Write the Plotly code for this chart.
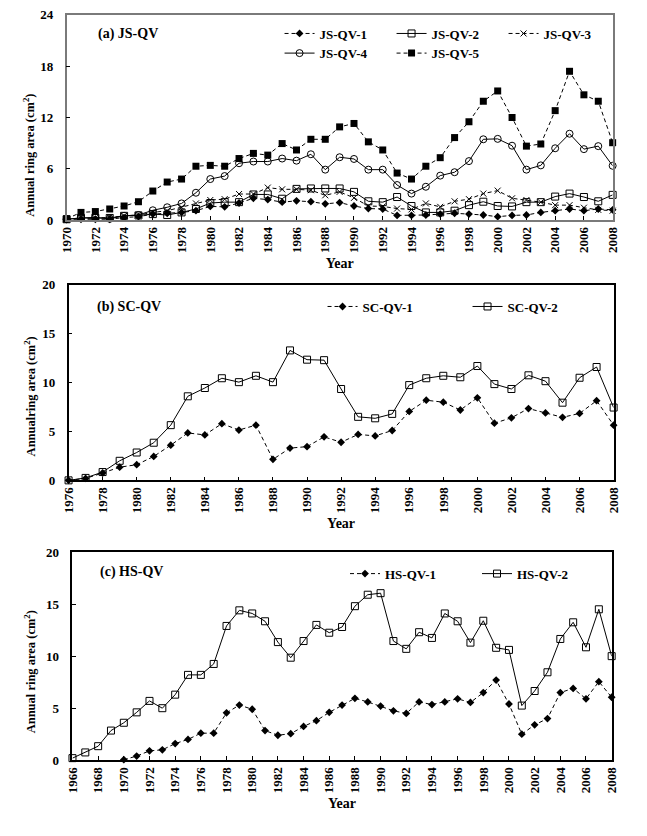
import plotly.graph_objects as go

# ---------------- data ----------------
js_years = list(range(1970, 2009))
js_qv_1 = [0.1, 0.1, 0.1, 0.1, 0.3, 0.4, 0.7, 0.8, 0.9, 1.1,
           1.6, 1.55, 2.0, 2.55, 2.4, 2.1, 2.25, 2.15, 1.9, 2.05,
           1.65, 1.35, 1.3, 0.55, 0.55, 0.6, 0.7, 0.8, 0.7, 0.6,
           0.4, 0.55, 0.6, 0.9, 1.1, 1.3, 1.1, 1.3, 1.2]
js_qv_2 = [0.1, 0.25, 0.25, 0.25, 0.5, 0.55, 0.7, 0.6, 0.9, 1.3,
           2.0, 2.1, 2.1, 3.0, 3.0, 2.5, 3.65, 3.7, 3.7, 3.7,
           3.3, 2.2, 2.1, 2.7, 1.65, 0.9, 0.9, 1.1, 1.75, 2.15,
           1.65, 1.6, 2.1, 2.1, 2.75, 3.1, 2.7, 2.2, 2.95]
js_qv_3 = [0.1, 0.2, 0.25, 0.3, 0.5, 0.6, 0.9, 1.1, 1.5, 1.95,
           2.35, 2.45, 3.05, 3.05, 3.8, 3.6, 3.6, 3.5, 2.9, 3.3,
           2.6, 1.65, 1.6, 1.35, 1.25, 1.95, 1.55, 2.2, 2.45, 3.1,
           3.45, 2.55, 2.35, 2.1, 1.75, 1.75, 1.45, 1.2, 1.1]
js_qv_4 = [0.1, 0.25, 0.3, 0.15, 0.5, 0.6, 1.15, 1.5, 1.95, 3.2,
           4.8, 5.15, 6.65, 6.85, 6.85, 7.2, 6.95, 7.7, 5.9, 7.35,
           7.15, 5.9, 5.9, 4.1, 3.1, 3.9, 5.2, 5.6, 6.9, 9.45,
           9.5, 8.7, 5.9, 6.4, 8.4, 10.1, 8.3, 8.65, 6.35]
js_qv_5 = [0.15, 0.9, 1.0, 1.3, 1.65, 2.15, 3.4, 4.45, 4.8, 6.3,
           6.4, 6.3, 7.2, 7.8, 7.6, 8.95, 8.2, 9.45, 9.45, 10.9,
           11.3, 9.15, 8.2, 5.5, 4.8, 6.3, 7.3, 9.65, 11.5, 13.9,
           15.1, 12.0, 8.65, 8.9, 12.8, 17.4, 14.65, 13.9, 9.05]

sc_years = list(range(1976, 2009))
sc_qv_1 = [0, 0.2, 0.75, 1.35, 1.6, 2.45, 3.6, 4.85, 4.65, 5.8,
           5.15, 5.65, 2.15, 3.3, 3.45, 4.45, 3.9, 4.7, 4.55, 5.1,
           7.05, 8.2, 8.0, 7.2, 8.45, 5.85, 6.4, 7.35, 6.9, 6.45,
           6.85, 8.15, 5.65]
sc_qv_2 = [0, 0.25, 0.85, 2.0, 2.85, 3.85, 5.65, 8.6, 9.45, 10.45,
           10.05, 10.7, 10.05, 13.3, 12.35, 12.3, 9.35, 6.5, 6.35, 6.8,
           9.75, 10.45, 10.7, 10.55, 11.7, 9.85, 9.35, 10.75, 10.15, 7.95,
           10.5, 11.6, 7.45]

hs1_years = list(range(1970, 2009))
hs_qv_1 = [0.05, 0.4, 0.9, 1.0, 1.6, 2.0, 2.6, 2.6, 4.55, 5.3,
           4.9, 2.85, 2.4, 2.55, 3.25, 3.8, 4.6, 5.3, 5.95, 5.6,
           5.2, 4.75, 4.5, 5.6, 5.35, 5.6, 5.9, 5.55, 6.5, 7.7,
           5.4, 2.5, 3.4, 4.0, 6.5, 6.9, 5.9, 7.55, 6.05]
hs2_years = list(range(1966, 2009))
hs_qv_2 = [0.2, 0.75, 1.35, 2.85, 3.6, 4.6, 5.7, 5.0, 6.3, 8.2,
           8.2, 9.25, 12.9, 14.4, 14.1, 13.35, 11.35, 9.85, 11.45, 13.0,
           12.25, 12.8, 14.8, 15.9, 16.05, 11.45, 10.7, 12.3, 11.75, 14.1,
           13.35, 11.3, 13.4, 10.8, 10.6, 5.25, 6.65, 8.45, 11.65, 13.25,
           10.85, 14.5, 10.0]

# ---------------- figure ----------------
W, H = 647, 836
FONT = "Liberation Serif"
DASH = "4px,3px"

fig = go.Figure()

def px_x(p):
    return p / W

def px_y(p):
    return 1 - p / H

STY = {
    "diamond": dict(symbol="diamond", size=6, color="black"),
    "sq_open": dict(symbol="square-open", size=7, color="black", line=dict(width=1)),
    "x": dict(symbol="x-thin-open", size=6, color="black", line=dict(width=1)),
    "circ": dict(symbol="circle-open", size=7, color="black", line=dict(width=1)),
    "sq_fill": dict(symbol="square", size=7, color="black"),
}

def add(x, y, name, marker, dash, xa, ya, legend):
    fig.add_trace(go.Scatter(
        x=x, y=y, name=name, mode="lines+markers",
        line=dict(color="black", width=1, dash=dash),
        marker=STY[marker], xaxis=xa, yaxis=ya, legend=legend,
        cliponaxis=False))

add(js_years, js_qv_1, "JS-QV-1", "diamond", DASH, "x", "y", "legend")
add(js_years, js_qv_2, "JS-QV-2", "sq_open", "solid", "x", "y", "legend")
add(js_years, js_qv_3, "JS-QV-3", "x", DASH, "x", "y", "legend")
add(js_years, js_qv_4, "JS-QV-4", "circ", "solid", "x", "y", "legend2")
add(js_years, js_qv_5, "JS-QV-5", "sq_fill", DASH, "x", "y", "legend2")
add(sc_years, sc_qv_1, "SC-QV-1", "diamond", DASH, "x2", "y2", "legend3")
add(sc_years, sc_qv_2, "SC-QV-2", "sq_open", "solid", "x2", "y2", "legend3")
add(hs1_years, hs_qv_1, "HS-QV-1", "diamond", DASH, "x3", "y3", "legend4")
add(hs2_years, hs_qv_2, "HS-QV-2", "sq_open", "solid", "x3", "y3", "legend4")

tickfont = dict(family=FONT, size=13, color="black", weight="bold")
titlefont = dict(family=FONT, size=14, color="black", weight="bold")

def xaxis(left, right, rng, anchor, lc):
    return dict(domain=[px_x(left), px_x(right)], range=rng, anchor=anchor,
                tick0=rng[0], dtick=2, tickangle=-90, ticks="inside", ticklen=4,
                tickcolor="black", showgrid=False, zeroline=False,
                showline=True, mirror=True, linecolor=lc, linewidth=1.5,
                tickfont=tickfont, title=dict(text="Year", font=titlefont, standoff=6))

def yaxis(top, bottom, rng, dt, anchor, lc):
    return dict(domain=[px_y(bottom), px_y(top)], range=rng, anchor=anchor,
                dtick=dt, ticks="inside", ticklen=4, tickcolor="black",
                showgrid=False, zeroline=False, showline=True, mirror=True,
                linecolor=lc, linewidth=1.5, tickfont=tickfont,
                ticklabelstandoff=9)

legfont = dict(family=FONT, size=13, color="black", weight="bold")

def legend(xp, yp, ew):
    return dict(x=px_x(xp), y=px_y(yp), xanchor="left", yanchor="middle",
                orientation="h", entrywidth=ew, entrywidthmode="pixels",
                font=legfont, bgcolor="rgba(0,0,0,0)", tracegroupgap=0,
                itemwidth=30)

fig.update_layout(
    width=W, height=H, margin=dict(l=0, r=0, t=0, b=0),
    paper_bgcolor="white", plot_bgcolor="white",
    font=dict(family=FONT, color="black"),
    xaxis=xaxis(60, 619, [1970, 2008], "y", "#7a7a7a"),
    yaxis=yaxis(8, 217, [0, 24], 6, "x", "#7a7a7a"),
    xaxis2=xaxis(62, 620, [1976, 2008], "y2", "black"),
    yaxis2=yaxis(283, 482, [0, 20], 5, "x2", "black"),
    xaxis3=xaxis(66, 618, [1966, 2008], "y3", "black"),
    yaxis3=yaxis(555, 767, [0, 20], 5, "x3", "black"),
    legend=legend(278, 27, 67),
    legend2=legend(278, 47, 67),
    legend3=legend(322, 305, 100),
    legend4=legend(345, 577, 87),
    showlegend=True,
)

for txt, xp, yp in [("(a) JS-QV", 90, 28), ("(b) SC-QV", 89, 305), ("(c) HS-QV", 92, 575)]:
    fig.add_annotation(text=txt, x=px_x(xp), y=px_y(yp), xref="paper", yref="paper",
                       xanchor="left", yanchor="middle", showarrow=False,
                       font=dict(family=FONT, size=14, color="black", weight="bold"))

y_titles = ["Annual ring area (cm<sup>2</sup>)",
            "Annualring area (cm<sup>2</sup>)",
            "Annual ring area (cm<sup>2</sup>)"]
for txt, yp in zip(y_titles, [151, 396, 677]):
    fig.add_annotation(text=txt, x=px_x(22), y=px_y(yp), xref="paper", yref="paper",
                       xanchor="center", yanchor="middle", showarrow=False, textangle=-90,
                       font=dict(family=FONT, size=12.5, color="black", weight="bold"))

fig.write_html("out.html")
